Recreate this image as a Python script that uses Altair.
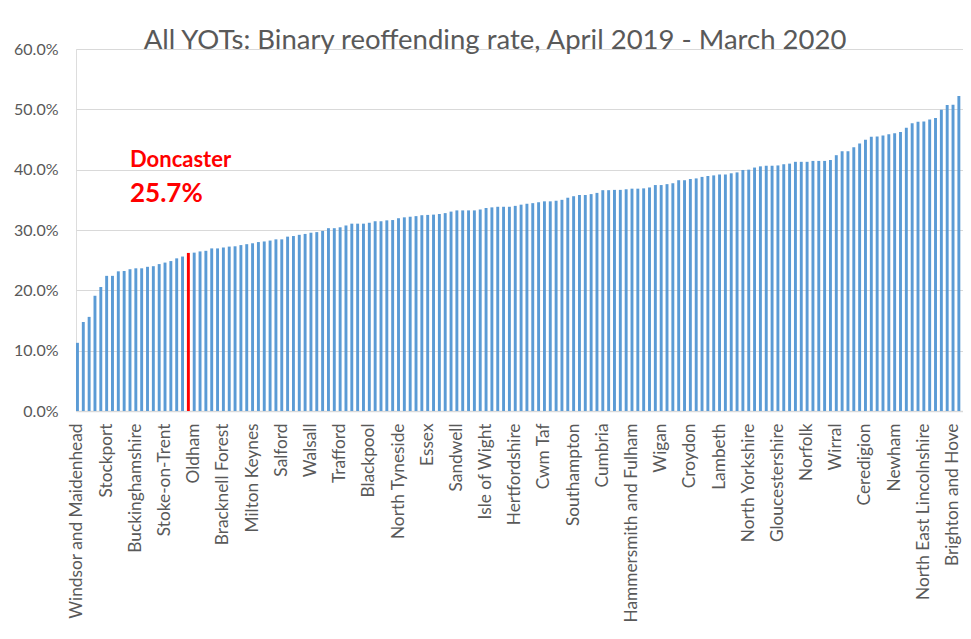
import altair as alt
import pandas as pd

# --- data (binary reoffending rate, %) ---
rates = [
    11.3, 14.75, 15.6, 19.1, 20.55, 22.4, 22.4, 23.15, 23.2, 23.5,
    23.65, 23.65, 23.9, 24.0, 24.35, 24.6, 24.85, 25.3, 25.6, 26.2,
    26.25, 26.45, 26.55, 26.95, 26.95, 27.1, 27.25, 27.3, 27.5, 27.65,
    27.8, 28.0, 28.1, 28.25, 28.45, 28.45, 28.9, 29.0, 29.2, 29.35,
    29.55, 29.65, 29.85, 30.3, 30.3, 30.45, 30.75, 31.05, 31.05, 31.05,
    31.2, 31.45, 31.45, 31.6, 31.65, 31.95, 32.1, 32.2, 32.3, 32.45,
    32.5, 32.55, 32.65, 32.8, 33.05, 33.25, 33.25, 33.25, 33.25, 33.4,
    33.65, 33.75, 33.85, 33.85, 33.85, 34.0, 34.2, 34.35, 34.45, 34.6,
    34.75, 34.75, 34.85, 35.0, 35.35, 35.6, 35.8, 35.8, 35.95, 36.15,
    36.6, 36.6, 36.65, 36.65, 36.75, 36.85, 36.85, 36.9, 37.05, 37.45,
    37.45, 37.6, 37.75, 38.25, 38.25, 38.45, 38.55, 38.8, 38.95, 39.05,
    39.2, 39.2, 39.4, 39.55, 39.95, 40.0, 40.35, 40.55, 40.65, 40.65,
    40.7, 40.9, 41.0, 41.3, 41.3, 41.3, 41.45, 41.45, 41.45, 41.6,
    42.4, 43.05, 43.05, 43.7, 44.35, 44.95, 45.45, 45.5, 45.65, 45.85,
    46.05, 46.25, 46.95, 47.7, 47.95, 48.0, 48.3, 48.55, 49.95, 50.7,
    50.75, 52.2, 53.95, 54.15,
]

# labels shown on the axis (every 5th YOT)
tick_labels = [
    "Windsor and Maidenhead", "Stockport", "Buckinghamshire", "Stoke-on-Trent",
    "Oldham", "Bracknell Forest", "Milton Keynes", "Salford", "Walsall",
    "Trafford", "Blackpool", "North Tyneside", "Essex", "Sandwell",
    "Isle of Wight", "Hertfordshire", "Cwm Taf", "Southampton", "Cumbria",
    "Hammersmith and Fulham", "Wigan", "Croydon", "Lambeth", "North Yorkshire",
    "Gloucestershire", "Norfolk", "Wirral", "Ceredigion", "Newham",
    "North East Lincolnshire", "Brighton and Hove",
]
label_step = 5
highlight_index = 19
highlight_name = "Doncaster"
highlight_text = "25.7%"
title_text = "All YOTs: Binary reoffending rate, April 2019 - March 2020"
y_ticks = [0.0, 0.1, 0.2, 0.3, 0.4, 0.5, 0.6]

df = pd.DataFrame({
    "idx": list(range(len(rates))),
    "rate": [r / 100 for r in rates],
    "hl": ["yes" if i == highlight_index else "no" for i in range(len(rates))],
})

# visible plot area (the original chart runs past the right edge of the picture)
W, H = 887, 362
X_RANGE = 896
grey = "#595959"
font = "Lato"

label_array = "[" + ",".join("'" + s + "'" for s in tick_labels) + "]"
label_expr = f"{label_array}[datum.value / {label_step}]"

bars = alt.Chart(df).mark_bar(clip=True).encode(
    x=alt.X(
        "idx:O",
        scale=alt.Scale(paddingInner=0.5, paddingOuter=0.0, range=[0, X_RANGE]),
        axis=alt.Axis(
            title=None,
            values=list(range(0, len(rates), label_step)),
            labelExpr=label_expr,
            labelAngle=270,
            labelAlign="right",
            labelBaseline="middle",
            labelPadding=12,
            labelFontSize=17.3,
            labelFont=font,
            labelColor=grey,
            labelLimit=0,
            labelOverlap=False,
            ticks=False,
            domain=True,
            domainColor="#d9d9d9",
            domainWidth=1.5,
            grid=False,
        ),
    ),
    y=alt.Y(
        "rate:Q",
        scale=alt.Scale(domain=[0, 0.6], nice=False),
        axis=alt.Axis(
            title=None,
            values=y_ticks,
            format=".1%",
            labelFontSize=16,
            labelFont=font,
            labelColor=grey,
            labelPadding=18,
            ticks=False,
            domain=False,
            grid=True,
            gridColor="#d9d9d9",
            gridWidth=1.2,
        ),
    ),
    color=alt.Color(
        "hl:N",
        scale=alt.Scale(domain=["no", "yes"], range=["#5B9BD5", "#FF0000"]),
        legend=None,
    ),
)

title = alt.Chart(pd.DataFrame({"t": [title_text]})).mark_text(
    font=font, fontSize=27.5, color=grey, align="center", baseline="alphabetic"
).encode(x=alt.value(419), y=alt.value(-0.5), text="t:N")

ann1 = alt.Chart(pd.DataFrame({"t": [highlight_name]})).mark_text(
    font=font, fontSize=22, fontWeight="bold", color="#FF0000", align="left", baseline="alphabetic"
).encode(x=alt.value(54), y=alt.value(118), text="t:N")

ann2 = alt.Chart(pd.DataFrame({"t": [highlight_text]})).mark_text(
    font=font, fontSize=26, fontWeight="bold", color="#FF0000", align="left", baseline="alphabetic"
).encode(x=alt.value(54), y=alt.value(153), text="t:N")

chart = alt.layer(bars, title, ann1, ann2).properties(
    width=W,
    height=H,
    autosize=alt.AutoSizeParams(type="none"),
    padding={"left": 68, "top": 41, "right": 0, "bottom": 219},
).configure_view(stroke=None).configure(background="white")

chart.save("out.html", embed_options={"renderer": "svg", "actions": False})
